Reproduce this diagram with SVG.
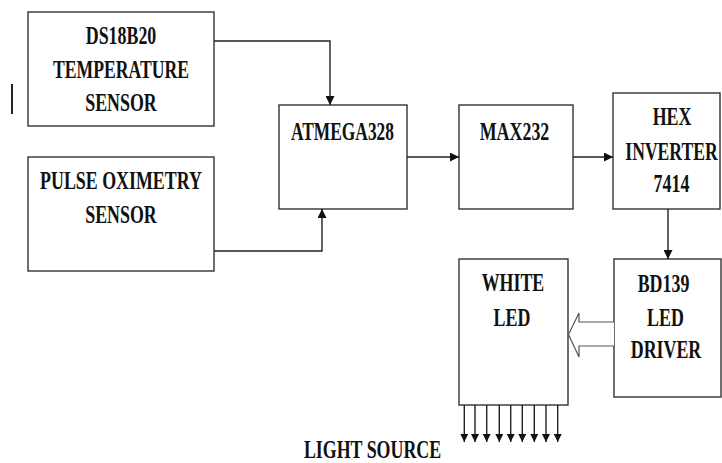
<svg xmlns="http://www.w3.org/2000/svg" width="722" height="463" viewBox="0 0 722 463">
<style>
.box{fill:#fff;stroke:#333;stroke-width:1.4}
.lbl{font-family:"Liberation Serif","Times New Roman","DejaVu Serif",serif;font-weight:bold;font-size:24.5px;fill:#111;text-anchor:middle}
.conn{fill:none;stroke:#222;stroke-width:1.4}
</style>
<defs>
<marker id="ah" viewBox="0 0 10 10" refX="10" refY="5" markerWidth="12" markerHeight="9" markerUnits="userSpaceOnUse" orient="auto">
<path d="M0,0 L10,5 L0,10 Z" fill="#111"/>
</marker>
<marker id="ahs" viewBox="0 0 10 10" refX="10" refY="5" markerWidth="8" markerHeight="8" markerUnits="userSpaceOnUse" orient="auto">
<path d="M0,0 L10,5 L0,10 Z" fill="#111"/>
</marker>
</defs>
<rect x="11" y="84" width="2" height="30" fill="#222"/>
<g id="ds18b20">
<rect class="box" x="28" y="12" width="186" height="114"/>
<text class="lbl" transform="translate(121,44) scale(0.73,1)">DS18B20</text>
<text class="lbl" transform="translate(121,78) scale(0.72,1)">TEMPERATURE</text>
<text class="lbl" transform="translate(121,111) scale(0.73,1)">SENSOR</text>
</g>
<g id="pulse">
<rect class="box" x="28" y="157" width="186" height="114"/>
<text class="lbl" transform="translate(121,189) scale(0.73,1)">PULSE OXIMETRY</text>
<text class="lbl" transform="translate(121,223) scale(0.73,1)">SENSOR</text>
</g>
<g id="atmega">
<rect class="box" x="279" y="105" width="128" height="104"/>
<text class="lbl" transform="translate(342.5,140) scale(0.71,1)">ATMEGA328</text>
</g>
<g id="max232">
<rect class="box" x="459" y="105" width="114" height="104"/>
<text class="lbl" transform="translate(514.5,140) scale(0.73,1)">MAX232</text>
</g>
<g id="hex">
<rect class="box" x="613" y="93" width="107" height="116"/>
<text class="lbl" transform="translate(672,125) scale(0.73,1)">HEX</text>
<text class="lbl" transform="translate(671.5,160) scale(0.72,1)">INVERTER</text>
<text class="lbl" transform="translate(671.5,192) scale(0.73,1)">7414</text>
</g>
<g id="whiteled">
<rect class="box" x="459" y="259" width="109" height="146"/>
<text class="lbl" transform="translate(513,291) scale(0.73,1)">WHITE</text>
<text class="lbl" transform="translate(512,326) scale(0.73,1)">LED</text>
</g>
<g id="bd139">
<rect class="box" x="614" y="259" width="107" height="138"/>
<text class="lbl" transform="translate(663.5,292) scale(0.73,1)">BD139</text>
<text class="lbl" transform="translate(665.5,326) scale(0.73,1)">LED</text>
<text class="lbl" transform="translate(666,358) scale(0.73,1)">DRIVER</text>
</g>
<g id="lightsource">
<text class="lbl" transform="translate(372.5,458) scale(0.73,1)">LIGHT SOURCE</text>
</g>
<g id="connectors">
<path class="conn" d="M214,41 H330 V105" marker-end="url(#ah)"/>
<path class="conn" d="M214,251 H322 V209" marker-end="url(#ah)"/>
<path class="conn" d="M407,157 H459" marker-end="url(#ah)"/>
<path class="conn" d="M573,157 H613" marker-end="url(#ah)"/>
<path class="conn" d="M668,209 V259" marker-end="url(#ah)"/>
<polyline fill="#fff" stroke="#555" stroke-width="1.2" points="614,322 579,322 579,313 568.5,334.5 579,357 579,346 614,346"/>
<path class="conn" d="M464.3,405 V442" marker-end="url(#ahs)"/>
<path class="conn" d="M475,405 V442" marker-end="url(#ahs)"/>
<path class="conn" d="M486.7,405 V442" marker-end="url(#ahs)"/>
<path class="conn" d="M499.3,405 V442" marker-end="url(#ahs)"/>
<path class="conn" d="M510.7,405 V442" marker-end="url(#ahs)"/>
<path class="conn" d="M522.3,405 V442" marker-end="url(#ahs)"/>
<path class="conn" d="M534.3,405 V442" marker-end="url(#ahs)"/>
<path class="conn" d="M546,405 V442" marker-end="url(#ahs)"/>
<path class="conn" d="M557.7,405 V442" marker-end="url(#ahs)"/>
</g>
</svg>
